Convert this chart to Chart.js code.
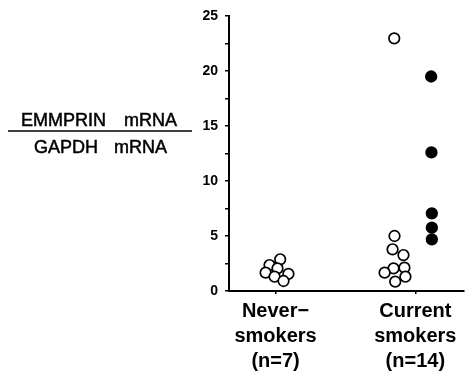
<!DOCTYPE html>
<html lang="en">
<head>
    <meta charset="utf-8">
    <title>EMMPRIN mRNA</title>
    <script src="https://cdn.jsdelivr.net/npm/chart.js@4.4.0/dist/chart.umd.min.js"></script>
    <style>
        html, body { margin: 0; padding: 0; background: #fff; }
        #wrap { width: 471px; height: 377px; position: relative; }
    </style>
</head>
<body>
<div id="wrap">
    <canvas id="myChart"></canvas>
</div>

<script>
    // groups on the x axis (1 = never-smokers, 2 = current smokers)
    const groupPos = [1, 2];
    const groupLabels = [["Never\u2212", "smokers", "(n=7)"], ["Current", "smokers", "(n=14)"]];
    const yTicks = [0, 5, 10, 15, 20, 25];

    // never-smokers, open circles
    const neverX = [0.957, 1.033, 0.929, 1.014, 1.092, 0.993, 1.057];
    const neverY = [2.36, 2.88, 1.67, 2.06, 1.55, 1.3, 0.91];

    // current smokers, open circles
    const currentOpenX = [1.849, 1.851, 1.837, 1.915, 1.844, 1.922, 1.78, 1.929, 1.856];
    const currentOpenY = [22.97, 5.0, 3.79, 3.27, 2.06, 2.12, 1.67, 1.3, 0.85];

    // current smokers, filled circles
    const currentFilledX = [2.113, 2.115, 2.118, 2.118, 2.118];
    const currentFilledY = [19.5, 12.6, 7.06, 5.76, 4.7];

    let toPoints = (xs, ys) => xs.map((x, i) => ({x: x, y: ys[i]}));

    // y title drawn as a ratio: EMMPRIN mRNA / GAPDH mRNA
    const ratioTitle = {
        id: 'ratioTitle',
        afterDraw(chart) {
            const ctx = chart.ctx;
            ctx.save();
            ctx.fillStyle = '#000';
            ctx.strokeStyle = '#000';
            ctx.font = '18px "Liberation Sans", Arial, sans-serif';
            ctx.textBaseline = 'middle';
            ctx.textAlign = 'left';
            ctx.lineWidth = 0.5;
            const parts = [['EMMPRIN', 21, 121], ['mRNA', 124, 121], ['GAPDH', 34, 148], ['mRNA', 114, 148]];
            parts.forEach(p => {
                ctx.fillText(p[0], p[1], p[2]);
                ctx.strokeText(p[0], p[1], p[2]);
            });
            ctx.lineWidth = 1.5;
            ctx.beginPath();
            ctx.moveTo(8, 131);
            ctx.lineTo(192, 131);
            ctx.stroke();
            ctx.restore();
        }
    };

    const circle = {
        pointStyle: 'circle',
        pointRadius: 5.3,
        pointHoverRadius: 5.3,
        pointBorderWidth: 1.7,
        pointBorderColor: '#000',
        showLine: false
    };

    new Chart(document.getElementById('myChart'), {
        type: 'scatter',
        data: {
            datasets: [
                Object.assign({label: 'Never-smokers', data: toPoints(neverX, neverY), pointBackgroundColor: '#fff'}, circle),
                Object.assign({label: 'Current (open)', data: toPoints(currentOpenX, currentOpenY), pointBackgroundColor: '#fff'}, circle),
                Object.assign({label: 'Current (filled)', data: toPoints(currentFilledX, currentFilledY), pointBackgroundColor: '#000'}, circle)
            ]
        },
        options: {
            responsive: true,
            maintainAspectRatio: false,
            animation: false,
            layout: { padding: { top: 16, right: 5, left: 0, bottom: 0 } },
            plugins: {
                legend: { display: false },
                tooltip: { enabled: false }
            },
            scales: {
                x: {
                    type: 'linear',
                    min: 0.667,
                    max: 2.348,
                    afterBuildTicks: scale => { scale.ticks = groupPos.map(v => ({value: v})); },
                    afterFit: scale => { scale.height = 86; },
                    border: { color: '#000', width: 2 },
                    grid: { drawOnChartArea: false, tickLength: 3, color: '#000', lineWidth: 1.5 },
                    ticks: {
                        color: '#000',
                        padding: 5,
                        maxRotation: 0,
                        autoSkip: false,
                        font: { family: '"Liberation Sans", Arial, sans-serif', size: 20, weight: 'bold', lineHeight: 1.25 },
                        callback: value => {
                            const i = groupPos.indexOf(value);
                            return i >= 0 ? groupLabels[i] : '';
                        }
                    }
                },
                y: {
                    min: 0,
                    max: 25,
                    afterFit: scale => { scale.width = 229; },
                    border: { color: '#000', width: 2 },
                    grid: { drawOnChartArea: false, tickLength: 4, color: '#000', lineWidth: 1.5 },
                    ticks: {
                        stepSize: 2.5,
                        color: '#000',
                        padding: 7,
                        font: { family: '"Liberation Sans", Arial, sans-serif', size: 14, weight: 'bold' },
                        callback: value => yTicks.includes(value) ? String(value) : ''
                    }
                }
            }
        },
        plugins: [ratioTitle]
    });
</script>
</body>
</html>
